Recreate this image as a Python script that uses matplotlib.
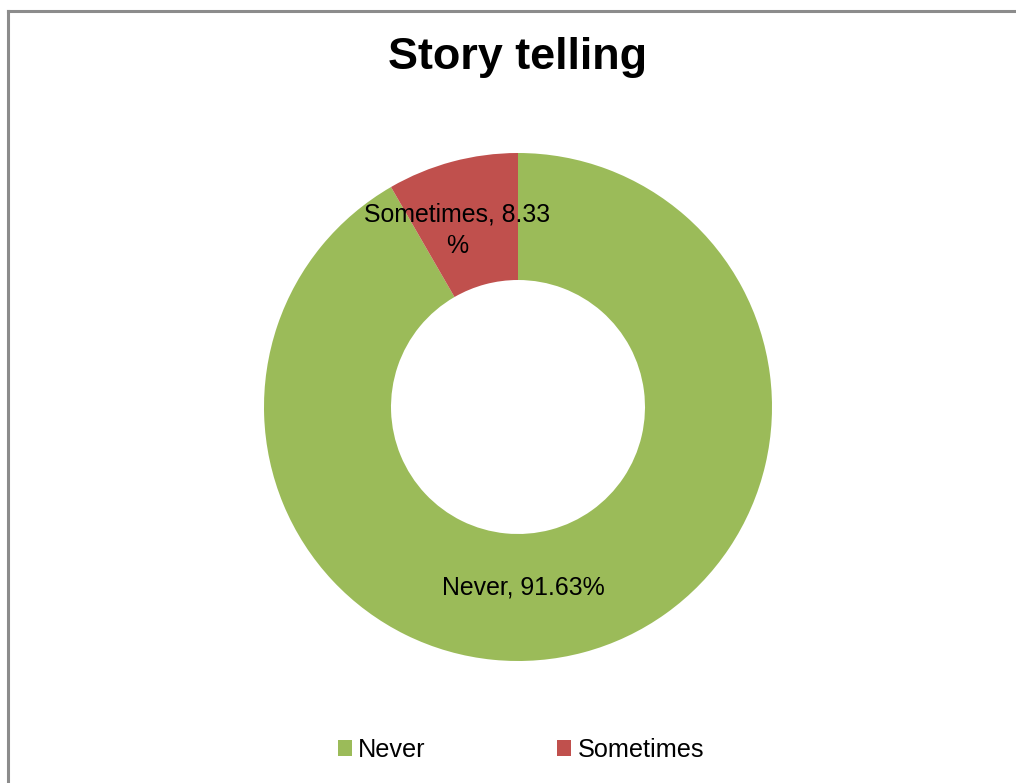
import matplotlib
matplotlib.use('Agg')
import matplotlib.pyplot as plt
from matplotlib.patches import Patch
from matplotlib.lines import Line2D

# data
categories = ['Never', 'Sometimes']
values = [91.63, 8.33]
labels = ['Never, 91.63%', 'Sometimes, 8.33\n%']
colors = ['#9BBB59', '#C0504D']
title = 'Story telling'

plt.rcParams['font.family'] = ['Liberation Sans', 'DejaVu Sans']

W, H = 1016, 783
fig = plt.figure(figsize=(W / 100, H / 100), dpi=100)

# chart border (runs off right/bottom edge like the reference)
fig.add_artist(Line2D([7.5 / W, 7.5 / W], [0, 1 - 11 / H], transform=fig.transFigure,
                      color='#8C8C8C', lw=2.2))
fig.add_artist(Line2D([7.5 / W, 1], [1 - 11 / H, 1 - 11 / H], transform=fig.transFigure,
                      color='#8C8C8C', lw=2.2))

# donut axes: centre (518, 407) px, radius 254 px
cx, cy, R = 518, 407, 254
half = 270
ax = fig.add_axes([(cx - half) / W, (H - cy - half) / H, 2 * half / W, 2 * half / H])
ax.pie(values, colors=colors, startangle=90, counterclock=False, radius=1.0,
       wedgeprops=dict(width=0.5, linewidth=0))
ax.set_xlim(-half / R, half / R)
ax.set_ylim(-half / R, half / R)
ax.set_aspect('equal')
ax.axis('off')

# data labels
ax.text(0.02, -0.71, labels[0], ha='center', va='center', fontsize=17.9, color='black')
ax.text(-0.24, 0.695, labels[1], ha='center', va='center', fontsize=17.9, color='black',
        multialignment='center', linespacing=1.4)

fig.text(518 / W, 1 - 58 / H, title, ha='center', va='center', fontsize=32.4, fontweight='bold')

handles = [Patch(facecolor=c, edgecolor='none') for c in colors]
fig.legend(handles, categories, loc='center', bbox_to_anchor=(521 / W, 1 - 750 / H),
           ncol=2, frameon=False, fontsize=18.2, handlelength=0.55, handleheight=0.55,
           handletextpad=0.25, columnspacing=5.2)

fig.savefig('out.png', dpi=100)
